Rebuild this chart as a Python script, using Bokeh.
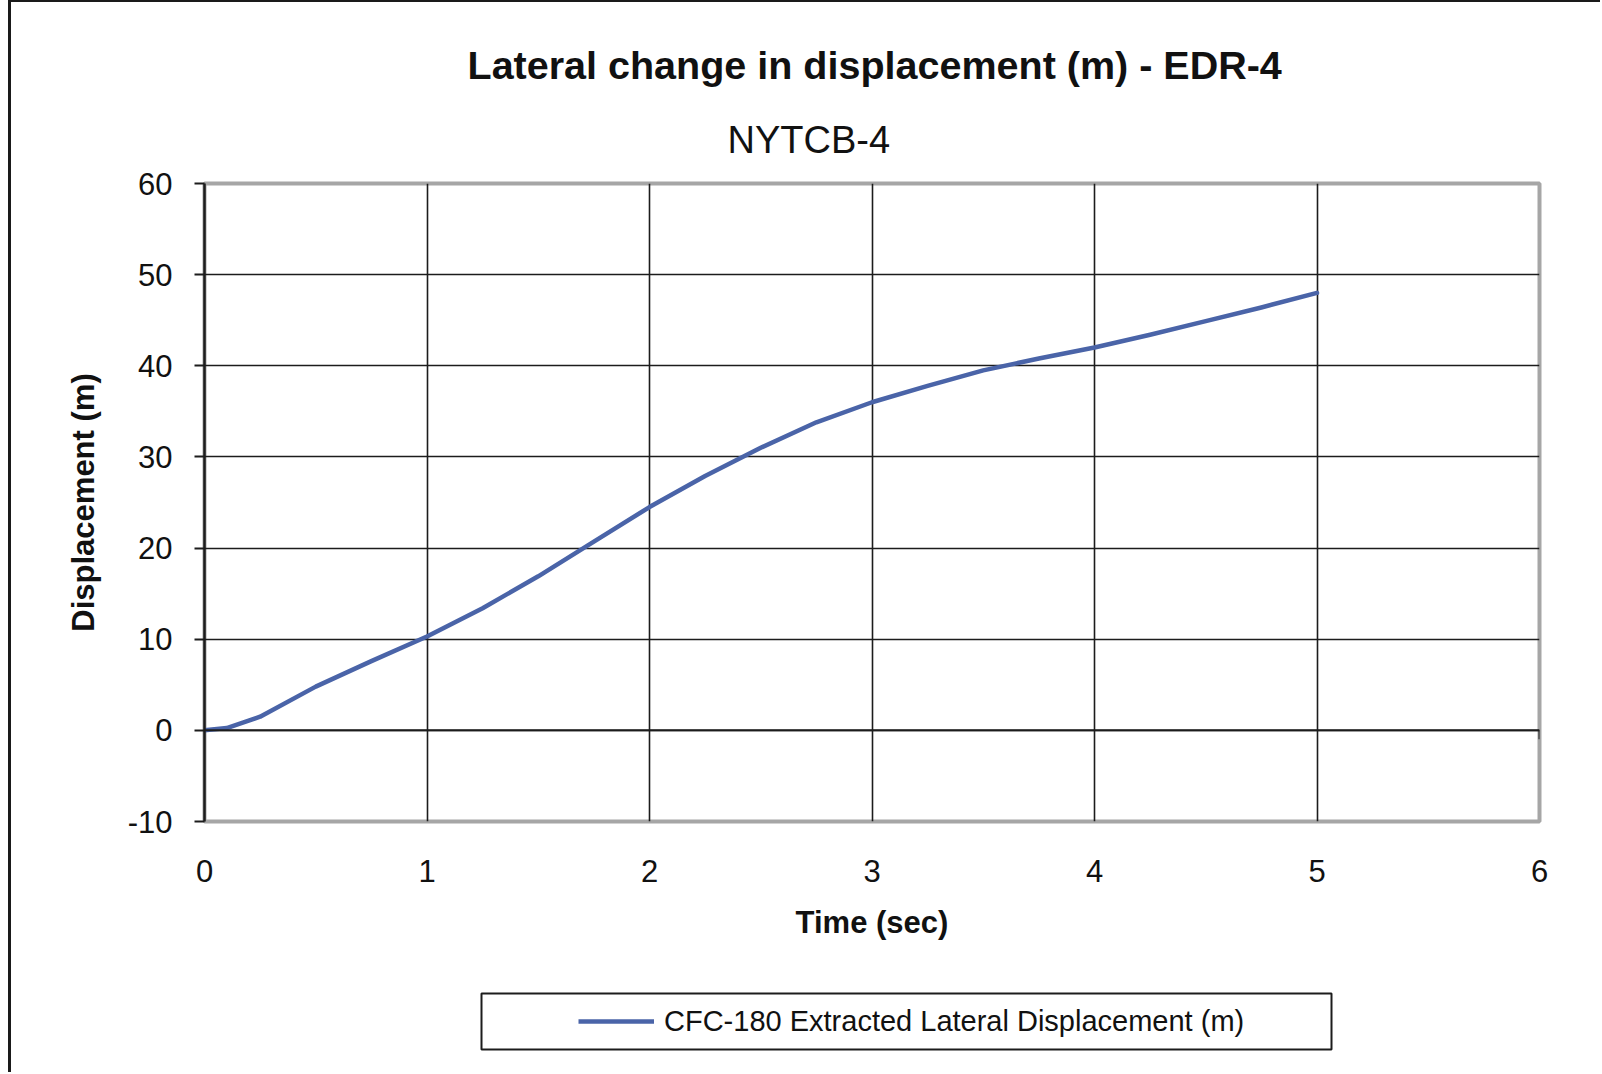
from bokeh.plotting import figure
from bokeh.layouts import column
from bokeh.models import Range1d, FixedTicker, Legend, LegendItem, Span, Title, BoxAnnotation
from bokeh.embed import file_html
from bokeh.resources import INLINE

# ---- data ----
time_s = [0, 0.1, 0.25, 0.5, 0.75, 1.0, 1.25, 1.5, 1.75, 2.0, 2.25, 2.5, 2.75,
          3.0, 3.25, 3.5, 3.75, 4.0, 4.25, 4.5, 4.75, 5.0]
disp_m = [0, 0.25, 1.5, 4.8, 7.6, 10.3, 13.4, 16.9, 20.7, 24.5, 27.9, 31.0, 33.8,
          36.0, 37.8, 39.5, 40.8, 42.0, 43.4, 44.9, 46.4, 48.0]
x_ticks = [0, 1, 2, 3, 4, 5, 6]
y_ticks = [-10, 0, 10, 20, 30, 40, 50, 60]
y_tick_labels = {t: str(t) for t in y_ticks}
series_name = "CFC-180 Extracted Lateral Displacement (m)"
title_text = "Lateral change in displacement (m) - EDR-4"
subtitle_text = "NYTCB-4"
x_label = "Time (sec)"
y_label = "Displacement (m)"

# ---- geometry (page pixels) ----
OX, OY = 11, 2                 # canvas origin on the page (after css border)
PAGE_W, PAGE_H = 1602, 1074
W = PAGE_W - OX - 2
SPLIT = 960                    # page y where the legend strip begins
H1 = SPLIT - OY
H2 = PAGE_H - 2 - SPLIT
PL, PR, PT, PB = 204, 1539, 183, 821          # plot area on the page
FL, FR, FT, FB = PL - OX, PR - OX, PT - OY, PB - OY

FONT = "Liberation Sans"
DARK = "#1c1c1c"
TEXT = "#111111"
BLUE = "#4a64a8"
GRAY = "#a6a6a6"

p = figure(width=W, height=H1, x_range=Range1d(x_ticks[0], x_ticks[-1]),
           y_range=Range1d(y_ticks[0], y_ticks[-1]),
           output_backend="svg", toolbar_location=None,
           min_border_left=FL, min_border_right=W - FR,
           min_border_top=FT, min_border_bottom=H1 - FB)
p.background_fill_color = "white"
p.border_fill_color = "white"
p.outline_line_color = GRAY
p.outline_line_width = 4

# titles: main title on top, subtitle nearest the frame
p.title.text = title_text
p.title.text_font = FONT
p.title.text_font_size = "39.5px"
p.title.text_font_style = "bold"
p.title.text_color = TEXT
p.title.align = "left"
p.title.offset = 467 - PL
p.title.standoff = 15
p.add_layout(Title(text=subtitle_text, text_font=FONT, text_font_size="38px",
                   text_font_style="normal", text_color=TEXT, align="left",
                   offset=727 - PL, standoff=45), "above")

# grids
p.xgrid.ticker = FixedTicker(ticks=x_ticks[1:-1])
p.ygrid.ticker = FixedTicker(ticks=[t for t in y_ticks if y_ticks[0] < t < y_ticks[-1]])
for g in (p.xgrid, p.ygrid):
    g.grid_line_color = DARK
    g.grid_line_width = 1.6

# horizontal axis line crossing at zero
p.add_layout(Span(location=0, dimension="width", line_color=DARK, line_width=2))

# x axis (labels only, at bottom)
xa = p.xaxis[0]
xa.ticker = FixedTicker(ticks=x_ticks)
xa.axis_line_color = None
xa.major_tick_line_color = None
xa.minor_tick_line_color = None
xa.major_label_standoff = 32
xa.major_label_text_font = FONT
xa.major_label_text_font_size = "31px"
xa.major_label_text_color = TEXT
xa.axis_label = x_label
xa.axis_label_text_font = FONT
xa.axis_label_text_font_style = "bold"
xa.axis_label_text_font_size = "31px"
xa.axis_label_text_color = TEXT
xa.axis_label_standoff = 20

# y axis
ya = p.yaxis[0]
ya.ticker = FixedTicker(ticks=y_ticks)
ya.major_label_overrides = y_tick_labels
ya.axis_line_color = DARK
ya.axis_line_width = 2.5
ya.major_tick_line_color = DARK
ya.major_tick_line_width = 2
ya.major_tick_out = 10
ya.major_tick_in = 0
ya.minor_tick_line_color = None
ya.major_label_standoff = 22
ya.major_label_text_font = FONT
ya.major_label_text_font_size = "31px"
ya.major_label_text_color = TEXT
ya.axis_label = y_label
ya.axis_label_text_font = FONT
ya.axis_label_text_font_style = "bold"
ya.axis_label_text_font_size = "31px"
ya.axis_label_text_color = TEXT
ya.axis_label_standoff = 24

# tick mark at the right end of the zero axis
px_per_unit = (FB - FT) / (y_ticks[-1] - y_ticks[0])
p.segment(x0=[x_ticks[-1]], y0=[0], x1=[x_ticks[-1]], y1=[-9 / px_per_unit],
          line_color=DARK, line_width=2)

# data line
r = p.line(time_s, disp_m, line_color=BLUE, line_width=4.5, line_join="round", line_cap="round")

# ---- legend strip: a figure whose frame is aligned with the chart's plot area,
#      with ranges in page pixels ----
lg = figure(width=W, height=H2, x_range=Range1d(PL, PR), y_range=Range1d(PAGE_H - 2, SPLIT),
            output_backend="svg", toolbar_location=None,
            x_axis_type=None, y_axis_type=None,
            min_border_left=FL, min_border_right=W - FR, min_border_top=0, min_border_bottom=0)
lg.outline_line_color = None
lg.background_fill_color = "white"
lg.border_fill_color = "white"
lg.xgrid.visible = False
lg.ygrid.visible = False

lg.add_layout(BoxAnnotation(left=481, right=1331, top=993, bottom=1049,
                            fill_color=None, line_color=DARK, line_alpha=1.0, line_width=2))
nan = float("nan")
key = lg.line(x=[nan], y=[nan], line_color=BLUE, line_width=4.5)
legend = Legend(items=[LegendItem(label=series_name, renderers=[key])],
                location=(578 - PL, (PAGE_H - 2) - (1021 + 17)),
                border_line_color=None, background_fill_alpha=0,
                padding=0, margin=0, spacing=0,
                glyph_width=76, glyph_height=34, label_height=34,
                label_standoff=10, label_text_font=FONT, label_text_font_size="29px",
                label_text_color=TEXT)
lg.add_layout(legend)

page = column(p, lg, spacing=0)
page.styles = {"border-left": "3px solid #1a1a1a", "border-top": "2px solid #1a1a1a",
               "margin-left": "8px"}

open("out.html", "w").write(file_html(page, INLINE))
